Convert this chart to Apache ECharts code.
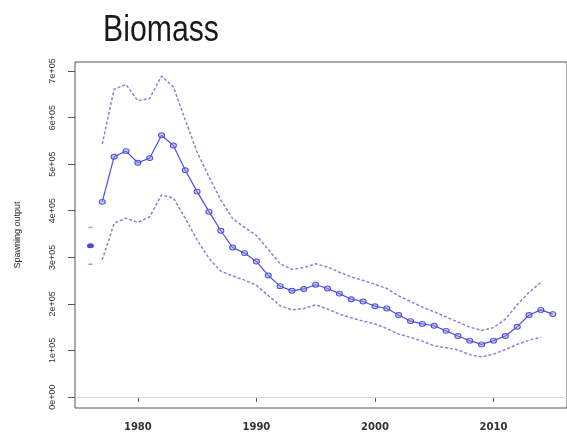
<!DOCTYPE html>
<html>
<head>
<meta charset="utf-8">
<script src="https://cdn.jsdelivr.net/npm/echarts@6/dist/echarts.min.js"></script>
<style>
html,body{margin:0;padding:0;background:#fff;}
#chart{width:567px;height:432px;}
</style>
</head>
<body>
<div id="chart"></div>
<script>
// ---- data ----
var titleText = "Biomass";
var yAxisTitle = "Spawning output";
var years = [1977,1978,1979,1980,1981,1982,1983,1984,1985,1986,1987,1988,1989,1990,1991,1992,1993,1994,1995,1996,1997,1998,1999,2000,2001,2002,2003,2004,2005,2006,2007,2008,2009,2010,2011,2012,2013,2014,2015];
var spawning = [419000,516000,528000,503000,513000,562000,540000,487000,441000,398000,357000,321000,309000,291000,261000,238000,228000,232000,241000,233000,222000,210000,205000,195000,190000,176000,163000,157000,153000,142000,131000,121000,113000,121000,131000,151000,176000,187000,178000];
var ciYears = [1977,1978,1979,1980,1981,1982,1983,1984,1985,1986,1987,1988,1989,1990,1991,1992,1993,1994,1995,1996,1997,1998,1999,2000,2001,2002,2003,2004,2005,2006,2007,2008,2009,2010,2011,2012,2013,2014];
var upper = [543000,661000,671000,636000,641000,689000,666000,595000,526000,473000,423000,383000,364000,347000,317000,286000,274000,278000,286000,279000,268000,258000,250000,242000,233000,217000,205000,193000,183000,172000,161000,150000,143000,149000,167000,198000,225000,246000];
var lower = [294000,373000,384000,375000,387000,434000,427000,384000,337000,298000,270000,260000,251000,240000,218000,196000,187000,190000,198000,189000,178000,170000,163000,157000,147000,135000,128000,120000,110000,106000,101000,91000,86000,92000,102000,113000,122000,128000];
var virginYear = 1976;
var virginValue = 325000;
var virginUpper = 364000;
var virginLower = 285000;
var xTicks = [1980,1990,2000,2010];
var yTicks = [0,100000,200000,300000,400000,500000,600000,700000];
var yTickLabels = ["0e+00","1e+05","2e+05","3e+05","4e+05","5e+05","6e+05","7e+05"];

function pairs(xs, ys){ return xs.map(function(x,i){ return [x, ys[i]]; }); }

var ciColor = 'rgba(110,110,210,0.85)';
var mainColor = '#4f4fdc';
var narrow = '"Liberation Sans Narrow", "Liberation Sans", Arial, sans-serif';

var chart = echarts.init(document.getElementById('chart'), null, {renderer:'canvas'});
chart.setOption({
  animation:false,
  backgroundColor:'#fff',
  graphic:[{
    type:'text', x:103, y:13, scaleX:0.84, scaleY:1, silent:true,
    style:{text:titleText, x:0, y:0, font:'36px "Liberation Sans", Arial, sans-serif', fill:'#1a1a1a', verticalAlign:'top', align:'left'}
  }],
  grid:{left:75, top:62, width:495, height:346, show:true, borderColor:'#555', borderWidth:1, backgroundColor:'transparent'},
  xAxis:{
    type:'value', min:1974.7, max:2016.2,
    axisLine:{show:false},
    splitLine:{show:false},
    axisTick:{show:true, length:5, customValues:xTicks, lineStyle:{color:'#555'}},
    axisLabel:{customValues:xTicks, margin:14, fontFamily:'DejaVu Sans', fontWeight:'bold', fontSize:10, color:'#333',
      formatter:function(v){ return String(v); }}
  },
  yAxis:{
    type:'value', min:-23600, max:719300,
    name:yAxisTitle, nameLocation:'middle', nameGap:53, nameRotate:90,
    nameTextStyle:{fontFamily:narrow, fontSize:9, color:'#222'},
    axisLine:{show:false},
    splitLine:{show:false},
    axisTick:{show:true, length:7, customValues:yTicks, lineStyle:{color:'#555'}},
    axisLabel:{customValues:yTicks, rotate:90, margin:18, fontFamily:narrow, fontSize:9, color:'#333',
      formatter:function(v){ var i = yTicks.indexOf(v); return i>=0 ? yTickLabels[i] : ''; }}
  },
  series:[
    {
      type:'line', data:pairs(ciYears, upper), showSymbol:false, symbol:'none',
      lineStyle:{color:ciColor, width:1.5, type:[3,2]}, z:2
    },
    {
      type:'line', data:pairs(ciYears, lower), showSymbol:false, symbol:'none',
      lineStyle:{color:ciColor, width:1.5, type:[3,2]}, z:2
    },
    {
      type:'line', data:pairs(years, spawning), symbol:'circle', symbolSize:[6,5],
      lineStyle:{color:mainColor, width:1.2},
      itemStyle:{color:'rgba(140,140,240,0.45)', borderColor:mainColor, borderWidth:1},
      z:3,
      markLine:{silent:true, symbol:'none', label:{show:false},
        lineStyle:{color:'#dcdcdc', type:'solid', width:1},
        data:[{yAxis:0}]}
    },
    {
      type:'scatter', data:[[virginYear, virginValue]], symbol:'circle', symbolSize:[7,5],
      itemStyle:{color:'#1a1ae0'}, z:4
    },
    {
      type:'scatter', data:[[virginYear, virginUpper],[virginYear, virginLower]], symbol:'rect', symbolSize:[4,1.5],
      itemStyle:{color:ciColor}, z:4
    }
  ]
});
</script>
</body>
</html>
